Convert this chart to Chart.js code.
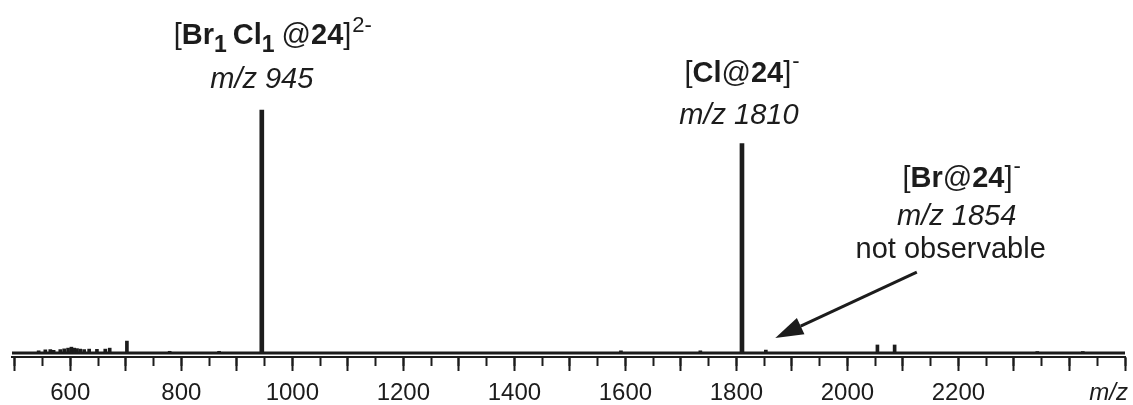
<!DOCTYPE html>
<html>
<head>
<meta charset="utf-8">
<script src="https://cdn.jsdelivr.net/npm/chart.js@4/dist/chart.umd.min.js"></script>
<style>
  html, body { margin: 0; padding: 0; background: #fff; }
  #wrap { width: 1133px; height: 405px; }
</style>
</head>
<body>
<div id="wrap"><canvas id="spec" width="1133" height="405"></canvas></div>
<script>
// Mass spectrum (negative mode) – m/z axis, relative intensity
const mainMz = [945, 1810];
const mainIntensity = [100, 86.2];

const minorMz = [543, 555, 564, 570, 582, 589, 596, 602, 607, 612, 618, 625, 634, 648, 663, 671,
                 702, 779, 868, 1592, 1735, 1853, 2054, 2085, 2342, 2424];
const minorIntensity = [0.9, 1.3, 1.4, 1.1, 1.4, 1.7, 2.0, 2.4, 2.0, 1.8, 1.6, 1.4, 1.6, 1.5, 1.6, 2.0,
                        4.9, 0.7, 0.7, 0.9, 0.9, 1.2, 3.3, 3.3, 0.6, 0.6];

const tickLabels = [600, 800, 1000, 1200, 1400, 1600, 1800, 2000, 2200];
const majorTicks = [];
const minorTicks = [];
for (let v = 500; v <= 2500; v += 50) {
  minorTicks.push(v);
  if (v % 100 === 0) majorTicks.push(v);
}
const xRange = [495, 2500];
const yRange = [-1.65, 145.3];

// the missing bromide ion: arrow from the label down to where it would appear
const arrowTail = { x: 2125, y: 33.3 };
const arrowTip = { x: 1870, y: 6.2 };

const FAMILY = '"Liberation Sans", Arial, Helvetica, sans-serif';
const INK = '#1c1c1c';

const toPoints = (xs, ys) => xs.map((x, i) => ({ x, y: ys[i] }));

function segFont(s) {
  return (s.italic ? 'italic ' : '') + (s.bold ? 'bold ' : '') + s.size + 'px ' + FAMILY;
}

function drawRich(ctx, segs, cx, baseline) {
  let total = 0;
  segs.forEach(s => {
    ctx.font = segFont(s);
    s.w = ctx.measureText(s.t).width;
    total += s.w + (s.gap || 0);
  });
  let x = cx - total / 2;
  ctx.textAlign = 'left';
  ctx.textBaseline = 'alphabetic';
  segs.forEach(s => {
    ctx.font = segFont(s);
    ctx.fillText(s.t, x, baseline + (s.dy || 0));
    x += s.w + (s.gap || 0);
  });
}

const R = (t, o) => Object.assign({ t, size: 29 }, o || {});

const peakLabels = {
  id: 'peakLabels',
  afterDatasetsDraw(chart) {
    const { ctx, scales: { x, y } } = chart;
    ctx.save();
    ctx.fillStyle = INK;

    // [Br1Cl1@24]2-  m/z 945
    const p1x = x.getPixelForValue(mainMz[0]);
    const p1y = y.getPixelForValue(mainIntensity[0]);
    drawRich(ctx, [
      R('['), R('Br', { bold: true }), R('1', { bold: true, size: 23, dy: 8, gap: 6 }),
      R('Cl', { bold: true }), R('1', { bold: true, size: 23, dy: 8, gap: 7 }),
      R('@'), R('24', { bold: true }), R(']', { gap: 1 }), R('2-', { size: 22, dy: -12 })
    ], p1x + 11, p1y - 66);
    drawRich(ctx, [R('m/z 945', { italic: true })], p1x, p1y - 22);

    // [Cl@24]-  m/z 1810
    const p2x = x.getPixelForValue(mainMz[1]);
    const p2y = y.getPixelForValue(mainIntensity[1]);
    drawRich(ctx, [
      R('['), R('Cl', { bold: true }), R('@'), R('24', { bold: true }), R(']', { gap: 1 }),
      R('-', { size: 22, dy: -14 })
    ], p2x, p2y - 62);
    drawRich(ctx, [R('m/z 1810', { italic: true })], p2x - 3, p2y - 20);

    // [Br@24]-  m/z 1854  not observable
    const bx = x.getPixelForValue(2195);
    const by = y.getPixelForValue(0);
    drawRich(ctx, [
      R('['), R('Br', { bold: true }), R('@'), R('24', { bold: true }), R(']', { gap: 1 }),
      R('-', { size: 22, dy: -14 })
    ], bx + 6, by - 166);
    drawRich(ctx, [R('m/z 1854', { italic: true })], bx + 1, by - 128);
    drawRich(ctx, [R('not observable')], bx - 5, by - 95);

    // arrow
    const tx = x.getPixelForValue(arrowTail.x), ty = y.getPixelForValue(arrowTail.y);
    const hx = x.getPixelForValue(arrowTip.x), hy = y.getPixelForValue(arrowTip.y);
    const ang = Math.atan2(hy - ty, hx - tx);
    const headLen = 28, headHalf = 9;
    const bxp = hx - headLen * Math.cos(ang), byp = hy - headLen * Math.sin(ang);
    ctx.strokeStyle = INK;
    ctx.lineWidth = 3;
    ctx.beginPath();
    ctx.moveTo(tx, ty);
    ctx.lineTo(bxp, byp);
    ctx.stroke();
    ctx.beginPath();
    ctx.moveTo(hx, hy);
    ctx.lineTo(bxp + headHalf * Math.sin(ang), byp - headHalf * Math.cos(ang));
    ctx.lineTo(bxp - headHalf * Math.sin(ang), byp + headHalf * Math.cos(ang));
    ctx.closePath();
    ctx.fill();

    // axis unit
    ctx.font = 'italic 24px ' + FAMILY;
    ctx.textAlign = 'right';
    ctx.textBaseline = 'alphabetic';
    ctx.fillText('m/z', 1128, 400);
    ctx.restore();
  }
};

new Chart(document.getElementById('spec'), {
  type: 'bar',
  data: {
    datasets: [
      {
        type: 'line',
        data: [{ x: xRange[0], y: 0 }, { x: xRange[1], y: 0 }],
        borderColor: INK,
        borderWidth: 3,
        pointRadius: 0,
        order: 3
      },
      {
        data: toPoints(minorMz, minorIntensity),
        backgroundColor: INK,
        barThickness: 3,
        grouped: false,
        order: 2
      },
      {
        data: toPoints(mainMz, mainIntensity),
        backgroundColor: INK,
        barThickness: 4,
        grouped: false,
        order: 1
      }
    ]
  },
  options: {
    responsive: false,
    animation: false,
    layout: { padding: { left: 12, right: 0, top: 0, bottom: 0 } },
    plugins: { legend: { display: false }, tooltip: { enabled: false } },
    scales: {
      x: {
        type: 'linear',
        position: 'bottom',
        offset: false,
        min: xRange[0],
        max: xRange[1],
        afterBuildTicks: s => { s.ticks = majorTicks.map(v => ({ value: v })); },
        afterFit: s => { s.height = 48; },
        border: { display: true, color: INK, width: 2 },
        grid: { offset: false, drawOnChartArea: false, drawTicks: true, tickLength: 14, tickWidth: 2, tickColor: INK },
        ticks: {
          autoSkip: false,
          maxRotation: 0,
          padding: 8,
          color: INK,
          font: { family: FAMILY, size: 24 },
          callback: v => tickLabels.includes(Math.round(v)) ? String(Math.round(v)) : ''
        }
      },
      xMinor: {
        type: 'linear',
        position: { y: yRange[0] },
        offset: false,
        min: xRange[0],
        max: xRange[1],
        afterBuildTicks: s => { s.ticks = minorTicks.map(v => ({ value: v })); },
        border: { display: false },
        grid: { offset: false, drawOnChartArea: false, drawTicks: true, tickLength: 9, tickWidth: 2, tickColor: INK },
        ticks: { autoSkip: false, display: false }
      },
      y: {
        type: 'linear',
        display: false,
        min: yRange[0],
        max: yRange[1]
      }
    }
  },
  plugins: [peakLabels]
});
</script>
</body>
</html>
